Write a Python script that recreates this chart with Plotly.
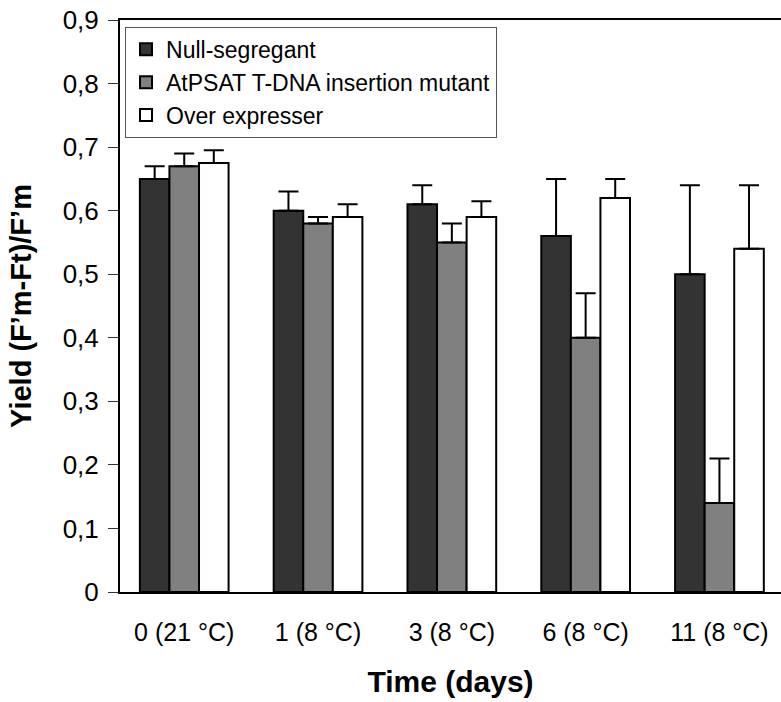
import plotly.graph_objects as go

categories = ["0 (21 °C)", "1 (8 °C)", "3 (8 °C)", "6 (8 °C)", "11 (8 °C)"]
series_names = ["Null-segregant", "AtPSAT T-DNA insertion mutant", "Over expresser"]
null_vals = [0.65, 0.60, 0.61, 0.56, 0.50]
null_err = [0.02, 0.03, 0.03, 0.09, 0.14]
mutant_vals = [0.67, 0.58, 0.55, 0.40, 0.14]
mutant_err = [0.02, 0.01, 0.03, 0.07, 0.07]
over_vals = [0.675, 0.59, 0.59, 0.62, 0.54]
over_err = [0.02, 0.02, 0.025, 0.03, 0.10]
y_ticks = [0, 0.1, 0.2, 0.3, 0.4, 0.5, 0.6, 0.7, 0.8, 0.9]
y_ticktext = ["0", "0,1", "0,2", "0,3", "0,4", "0,5", "0,6", "0,7", "0,8", "0,9"]

colors = ["#333333", "#808080", "#ffffff"]
vals = [null_vals, mutant_vals, over_vals]
errs = [null_err, mutant_err, over_err]

FONT = "Liberation Sans, Arial, sans-serif"
x_idx = list(range(len(categories)))

fig = go.Figure()
for name, v, e, c in zip(series_names, vals, errs, colors):
    fig.add_trace(go.Bar(
        x=x_idx, y=v, name=name,
        marker=dict(color=c, line=dict(color="black", width=2)),
        error_y=dict(type="data", symmetric=False, array=e,
                     arrayminus=[0] * len(e), color="black",
                     thickness=2, width=10),
    ))

fig.update_layout(
    width=781, height=702,
    margin=dict(l=120, r=0, t=20, b=110),
    paper_bgcolor="white", plot_bgcolor="white",
    barmode="group", bargap=0.337, bargroupgap=0,
    font=dict(family=FONT, color="black", size=24),
    showlegend=True,
    legend=dict(
        x=0.0076, y=0.988, xanchor="left", yanchor="top",
        bgcolor="white", bordercolor="#555555", borderwidth=1,
        font=dict(family=FONT, size=23, color="black"),
        tracegroupgap=0, itemsizing="constant", itemwidth=30,
    ),
)
fig.update_xaxes(
    range=[-0.48, 4.46], tickmode="array", tickvals=x_idx, ticktext=categories,
    showline=True, linecolor="black", linewidth=2, mirror=True,
    ticks="", showgrid=False, zeroline=False,
    tickfont=dict(family=FONT, size=25), ticklabelstandoff=17,
    title=dict(text="<b>Time (days)</b>", font=dict(family=FONT, size=30), standoff=26),
)
fig.update_yaxes(
    range=[0, 0.9], tickmode="array", tickvals=y_ticks, ticktext=y_ticktext,
    showline=True, linecolor="black", linewidth=2, mirror=False,
    ticks="outside", ticklen=10, tickwidth=1, tickcolor="#333333",
    showgrid=False, zeroline=False,
    tickfont=dict(family=FONT, size=26), ticklabelstandoff=4,
    title=dict(text="<b>Yield (F’m-Ft)/F’m</b>", font=dict(family=FONT, size=29), standoff=22),
)

fig.write_html("out.html")
